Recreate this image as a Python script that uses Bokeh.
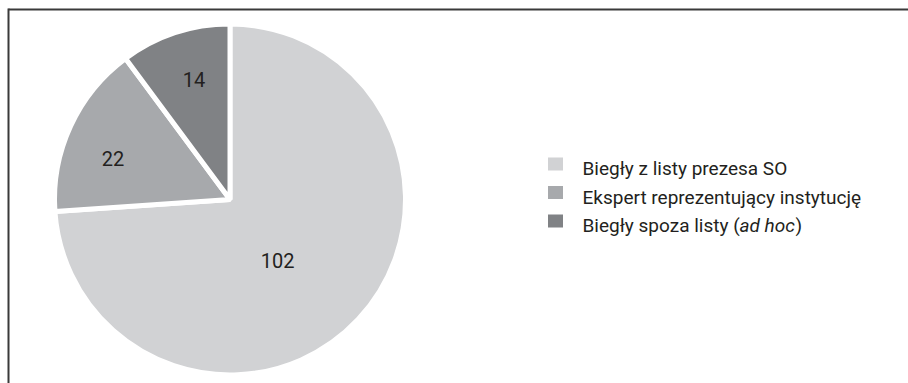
import numpy as np
from bokeh.plotting import figure
from bokeh.models import Range1d
from bokeh.core.properties import value
from bokeh.embed import file_html
from bokeh.resources import INLINE

# ---- data ----
categories = ["Biegły z listy prezesa SO", "Ekspert reprezentujący instytucję", "Biegły spoza listy (ad hoc)"]
values = [102, 22, 14]
colors = ["#d1d2d4", "#a7a9ac", "#808285"]

# ---- layout / style ----
W, H = 908, 383
CX, CY, R = 229.5, 184.0, 173.0
GAP = 5
label_rf = [0.447, 0.716, 0.724]
label_shift_deg = [9.0, -5.6, 1.5]
TEXT = "#231f20"
FONT = "Roboto"
FRAME = "#3a3a3a"

p = figure(width=W, height=H, x_range=Range1d(0, W), y_range=Range1d(0, H),
           x_axis_location=None, y_axis_location=None, toolbar_location=None,
           output_backend="svg", min_border=0)
p.outline_line_color = None
p.xgrid.visible = False
p.ygrid.visible = False
p.background_fill_color = "white"
p.border_fill_color = "white"

vals = np.array(values, dtype=float)
T = vals.sum()
cum = np.concatenate([[0.0], np.cumsum(vals)])
start = np.pi / 2 - 2 * np.pi * cum[1:] / T
end = np.pi / 2 - 2 * np.pi * cum[:-1] / T

p.wedge(x=CX, y=CY, radius=R + GAP / 2, start_angle=list(start), end_angle=list(end),
        fill_color=colors, line_color="white", line_width=GAP)

# value labels
mid = 2 * np.pi * (cum[:-1] + vals / 2) / T + np.deg2rad(label_shift_deg)
lx = CX + np.array(label_rf) * R * np.sin(mid)
ly = CY + np.array(label_rf) * R * np.cos(mid)
p.text(x=list(lx), y=list(ly), text=[str(v) for v in values], text_align="center",
       text_baseline="middle", text_font=value(FONT), text_font_size="20px", text_color=TEXT)

# legend
LX_SQ, LX_TXT, LY0, LDY = 555, 582, 215, 28.5
ly_base = [LY0 - i * LDY for i in range(len(categories))]
p.rect(x=[LX_SQ] * len(categories), y=[b + 4.5 for b in ly_base], width=15, height=13,
       width_units="screen", height_units="screen", fill_color=colors, line_color=None)
p.text(x=[LX_TXT, LX_TXT], y=ly_base[:2], text=categories[:2], text_align="left",
       text_baseline="alphabetic", text_font=value(FONT), text_font_size="19px", text_color=TEXT)
# third entry with italic part
parts = ["Biegły spoza listy (", "ad hoc", ")"]
part_x = [LX_TXT, 739, 795]
part_style = ["normal", "italic", "normal"]
for t, xx, st in zip(parts, part_x, part_style):
    p.text(x=[xx], y=[ly_base[2]], text=[t], text_align="left", text_baseline="alphabetic",
           text_font=value(FONT), text_font_size="19px", text_font_style=st, text_color=TEXT)

# frame lines (top and left)
p.segment(x0=[8, 8], y0=[H - 9, H - 8], x1=[W, 8], y1=[H - 9, 0],
          line_color=FRAME, line_width=2)

open("out.html", "w").write(file_html(p, INLINE))
